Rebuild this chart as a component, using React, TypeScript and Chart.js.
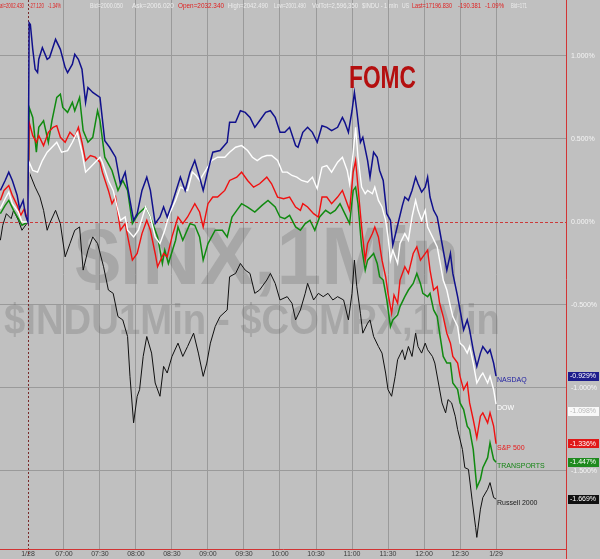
import React, { useEffect, useRef } from 'react';
import { Chart, registerables } from 'chart.js';
Chart.register(...registerables);

const FAMILY = "Arial, 'Liberation Sans', Helvetica, sans-serif";

// minutes since 06:30 (1/28 session start)
const timeTicks = [0, 30, 60, 90, 120, 150, 180, 210, 240, 270, 300, 330, 360, 390];
const timeTickLabels = ['1/28', '07:00', '07:30', '08:00', '08:30', '09:00', '09:30', '10:00', '10:30', '11:00', '11:30', '12:00', '12:30', '1/29'];
const percentTicks = [1, 0.5, 0, -0.5, -1, -1.5];

const X_MIN = -23.3;
const X_MAX = 448.3;
const Y_MIN = -1.97;
const Y_MAX = 1.337;

const seriesNames = ['NASDAQ', 'DOW', 'S&P 500', 'TRANSPORTS', 'Russell 2000'];
const lastValueLabels = ['-0.929%', '-1.098%', '-1.336%', '-1.447%', '-1.669%'];

// [minute, % change]
const nasdaq: [number, number][] = [
  [-23, 0.19], [-19, 0.25], [-16, 0.30], [-13, 0.25], [-9, 0.16], [-7, 0.08], [-4, 0.13], [-2, 0.04], [0, 0],
  [1, 1.20], [2, 1.19], [4, 1.04], [6, 0.92], [8, 0.90], [9, 0.98], [12, 1.05], [16, 0.98], [18, 0.99], [23, 1.10], [27, 1.04], [31, 0.93], [33, 0.90], [37, 0.95], [39, 1.01], [42, 0.98], [45, 0.92], [48, 0.72], [50, 0.81], [54, 0.78], [60, 0.75],
  [64, 0.49], [68, 0.45], [73, 0.39], [77, 0.23], [81, 0.30], [83, 0.21], [88, 0.01], [91, 0.05], [95, 0.19], [99, 0.27], [102, 0.19], [106, -0.01], [110, 0.03], [113, 0.09], [116, 0.03], [120, 0.11], [127, 0.27], [131, 0.19], [135, 0.30], [139, 0.37], [143, 0.27], [146, 0.19], [150, 0.31], [154, 0.42], [160, 0.43], [166, 0.48], [168, 0.60], [173, 0.60], [177, 0.67], [181, 0.66], [185, 0.63], [189, 0.57], [193, 0.61], [198, 0.66], [202, 0.67], [206, 0.63], [210, 0.54], [214, 0.54], [218, 0.57], [223, 0.46], [225, 0.45], [229, 0.54], [233, 0.57], [237, 0.54], [241, 0.48], [245, 0.58], [249, 0.57], [253, 0.55], [258, 0.57], [262, 0.63], [264, 0.60], [267, 0.54], [270, 0.67], [272, 0.78], [274, 0.67], [277, 0.48], [279, 0.51], [283, 0.37], [285, 0.27], [288, 0.42], [291, 0.39], [293, 0.31], [296, 0.25], [299, 0.05], [302, 0.01], [304, -0.14], [308, -0.02], [312, 0.10], [314, 0.15], [317, 0.13], [320, 0.19], [323, 0.27], [325, 0.23], [328, 0.18], [331, 0.21], [333, 0.27], [335, 0.15], [338, 0.07], [341, 0.03], [343, -0.05], [346, -0.17], [349, -0.29], [352, -0.19], [354, -0.31], [358, -0.45], [360, -0.53], [363, -0.65], [366, -0.59], [368, -0.65], [371, -0.77], [374, -0.87], [377, -0.79], [379, -0.75], [383, -0.79], [385, -0.77], [388, -0.85], [390, -0.929],
];

const dow: [number, number][] = [
  [-23, 0.08], [-19, 0.14], [-16, 0.18], [-13, 0.11], [-8, 0.06], [-5, 0], [0, 0],
  [1, 0.36], [4, 0.31], [8, 0.30], [12, 0.37], [16, 0.42], [20, 0.45], [24, 0.48], [28, 0.42], [33, 0.43], [37, 0.48], [41, 0.54], [45, 0.42], [48, 0.30], [52, 0.33], [56, 0.36], [60, 0.39], [62, 0.36], [67, 0.25], [71, 0.19], [77, 0.01], [81, 0.03], [83, -0.05], [88, -0.09], [92, -0.05], [98, 0.09], [102, 0.03], [106, -0.09], [110, -0.13], [114, -0.05], [118, 0.05], [123, 0.13], [127, 0.21], [133, 0.19], [137, 0.30], [140, 0.28], [143, 0.25], [148, 0.31], [153, 0.37], [158, 0.39], [164, 0.39], [168, 0.42], [173, 0.45], [178, 0.46], [183, 0.43], [187, 0.39], [191, 0.37], [195, 0.39], [199, 0.40], [203, 0.40], [208, 0.37], [212, 0.30], [216, 0.30], [220, 0.28], [224, 0.27], [228, 0.25], [233, 0.24], [237, 0.27], [241, 0.20], [245, 0.33], [249, 0.34], [253, 0.30], [258, 0.36], [262, 0.39], [266, 0.31], [268, 0.23], [271, 0.42], [273, 0.57], [275, 0.39], [278, 0.21], [281, 0.17], [283, 0.19], [287, 0.17], [289, 0.21], [292, 0.13], [295, 0.09], [298, 0.01], [300, -0.09], [302, -0.23], [304, -0.17], [308, -0.25], [310, -0.13], [314, -0.07], [317, -0.11], [320, 0.03], [323, 0.13], [325, 0.07], [328, 0.01], [331, 0.07], [333, -0.03], [337, -0.09], [341, -0.15], [343, -0.23], [346, -0.35], [349, -0.41], [352, -0.51], [354, -0.57], [358, -0.63], [360, -0.73], [363, -0.75], [366, -0.79], [368, -0.75], [371, -0.85], [374, -0.97], [377, -0.93], [379, -0.91], [383, -0.97], [385, -0.93], [388, -1.01], [390, -1.098],
];

const sp500: [number, number][] = [
  [-23, 0.13], [-20, 0.19], [-16, 0.22], [-13, 0.16], [-9, 0.10], [-6, 0.04], [-3, 0.08], [0, 0],
  [1, 0.60], [4, 0.52], [7, 0.48], [9, 0.52], [13, 0.46], [17, 0.54], [21, 0.57], [24, 0.58], [27, 0.51], [31, 0.48], [35, 0.54], [39, 0.51], [42, 0.57], [45, 0.48], [48, 0.37], [52, 0.40], [56, 0.39], [60, 0.36], [62, 0.30], [67, 0.19], [70, 0.11], [73, 0.15], [77, -0.05], [81, -0.01], [87, -0.23], [91, -0.19], [95, -0.07], [99, 0.01], [102, -0.05], [106, -0.19], [108, -0.27], [113, -0.19], [116, -0.21], [120, -0.09], [125, 0.03], [129, -0.01], [133, 0.03], [139, 0.11], [143, 0.06], [146, -0.03], [150, 0.11], [154, 0.15], [158, 0.15], [164, 0.19], [168, 0.25], [174, 0.27], [178, 0.30], [183, 0.25], [188, 0.21], [193, 0.23], [199, 0.27], [203, 0.23], [208, 0.15], [213, 0.14], [218, 0.15], [223, 0.09], [227, 0.07], [229, 0.11], [233, 0.09], [238, 0.05], [242, 0.03], [245, 0.15], [249, 0.15], [253, 0.11], [258, 0.15], [262, 0.19], [264, 0.15], [268, 0.07], [271, 0.30], [273, 0.37], [275, 0.21], [278, -0.03], [281, -0.23], [283, -0.13], [287, -0.07], [289, -0.03], [292, -0.09], [295, -0.23], [298, -0.33], [300, -0.43], [303, -0.55], [305, -0.44], [308, -0.49], [310, -0.35], [314, -0.27], [317, -0.31], [321, -0.19], [324, -0.15], [327, -0.23], [329, -0.21], [333, -0.17], [335, -0.29], [338, -0.41], [341, -0.39], [343, -0.49], [346, -0.57], [349, -0.67], [352, -0.73], [354, -0.81], [358, -0.85], [360, -0.93], [363, -1.01], [366, -0.97], [368, -1.09], [371, -1.19], [374, -1.30], [377, -1.17], [379, -1.15], [383, -1.21], [385, -1.15], [388, -1.23], [390, -1.336],
];

const transports: [number, number][] = [
  [-23, 0.05], [-19, 0.10], [-16, 0.13], [-12, 0.07], [-8, 0.02], [-5, -0.02], [0, 0],
  [1, 0.69], [4, 0.63], [7, 0.42], [9, 0.57], [13, 0.61], [17, 0.48], [20, 0.61], [24, 0.75], [27, 0.77], [29, 0.69], [33, 0.66], [37, 0.72], [39, 0.67], [43, 0.75], [46, 0.55], [50, 0.48], [54, 0.51], [58, 0.67], [60, 0.61], [64, 0.39], [70, 0.31], [75, 0.19], [79, 0.25], [83, 0.19], [87, -0.01], [92, 0.05], [98, 0.09], [102, 0.03], [108, -0.09], [112, -0.25], [114, -0.17], [117, -0.25], [123, -0.11], [125, -0.03], [129, -0.11], [135, -0.01], [139, -0.02], [143, -0.09], [146, -0.23], [150, -0.13], [156, -0.05], [162, -0.05], [166, -0.09], [170, 0.03], [174, 0.07], [178, 0.11], [183, 0.09], [189, 0.06], [195, 0.10], [200, 0.13], [206, 0.09], [210, 0.03], [214, 0.02], [218, 0.04], [223, -0.03], [227, -0.05], [231, -0.01], [235, 0.01], [239, -0.05], [243, 0.03], [248, 0.07], [252, 0.05], [256, 0.07], [260, 0.11], [264, 0.05], [268, -0.01], [271, 0.19], [273, 0.21], [275, 0.11], [278, -0.15], [281, -0.29], [283, -0.23], [288, -0.19], [291, -0.25], [293, -0.33], [296, -0.35], [299, -0.47], [302, -0.63], [304, -0.59], [308, -0.56], [310, -0.51], [314, -0.45], [317, -0.41], [321, -0.37], [324, -0.31], [327, -0.37], [329, -0.43], [333, -0.45], [335, -0.43], [338, -0.53], [341, -0.57], [343, -0.67], [346, -0.81], [349, -0.85], [352, -0.85], [354, -0.97], [358, -1.01], [360, -1.09], [363, -1.13], [366, -1.23], [368, -1.25], [371, -1.37], [374, -1.60], [377, -1.55], [379, -1.48], [383, -1.42], [385, -1.33], [388, -1.43], [390, -1.447],
];

const russell: [number, number][] = [
  [-23, -0.11], [-21, -0.02], [-18, 0.05], [-14, 0.02], [-12, 0.07], [-8, 0.01], [-5, -0.05], [0, 0],
  [1, 0.30], [6, 0.21], [10, 0.15], [13, 0.07], [16, -0.05], [18, -0.01], [23, 0.07], [27, -0.01], [31, -0.21], [35, -0.13], [39, -0.05], [43, -0.03], [46, -0.29], [50, -0.17], [54, -0.09], [58, -0.13], [63, -0.27], [67, -0.41], [71, -0.43], [75, -0.57], [79, -0.59], [83, -0.69], [85, -0.93], [88, -1.21], [91, -1.05], [93, -1.01], [96, -0.81], [99, -0.69], [103, -0.79], [106, -0.97], [110, -1.05], [113, -0.87], [116, -0.91], [120, -0.81], [125, -0.73], [129, -0.81], [133, -0.75], [138, -0.67], [142, -0.79], [146, -0.93], [149, -0.85], [152, -0.73], [156, -0.63], [160, -0.57], [166, -0.53], [168, -0.33], [173, -0.31], [177, -0.25], [181, -0.29], [185, -0.31], [189, -0.43], [193, -0.41], [199, -0.35], [202, -0.31], [206, -0.37], [210, -0.47], [216, -0.45], [220, -0.49], [223, -0.59], [227, -0.53], [231, -0.43], [233, -0.37], [238, -0.47], [242, -0.43], [246, -0.45], [250, -0.43], [254, -0.47], [258, -0.45], [263, -0.47], [267, -0.59], [270, -0.43], [272, -0.23], [274, -0.39], [277, -0.55], [279, -0.67], [283, -0.61], [285, -0.59], [288, -0.69], [292, -0.75], [295, -0.79], [298, -0.91], [300, -1.01], [303, -1.05], [306, -0.93], [308, -0.83], [312, -0.77], [314, -0.83], [317, -0.75], [320, -0.81], [323, -0.67], [325, -0.75], [328, -0.79], [331, -0.73], [333, -0.77], [337, -0.81], [339, -0.85], [342, -0.97], [345, -1.09], [348, -1.15], [350, -1.07], [353, -1.09], [356, -1.17], [358, -1.25], [362, -1.37], [364, -1.48], [367, -1.49], [370, -1.67], [373, -1.84], [374, -1.90], [377, -1.73], [379, -1.66], [383, -1.61], [385, -1.57], [388, -1.66], [390, -1.669],
];

const seriesData = [nasdaq, dow, sp500, transports, russell];
const lineColors = ['#10108c', '#ffffff', '#f01010', '#108a10', '#101010'];
const lineWidths = [1.5, 1.4, 1.4, 1.5, 1];
const labelColors = ['#1c1ca0', '#ffffff', '#e81818', '#148414', '#1a1a1a'];
const boxColors = ['#1c1c8c', '#f8f8f8', '#e01818', '#1e8a1e', '#111111'];
const boxTextColors = ['#ffffff', '#b8b8b8', '#ffffff', '#ffffff', '#ffffff'];
const boxNudge = [0, 7, 0, 0, 0];

const headerSegments: [number, string, string, number][] = [
  [0, 'al=2002.430', '#e02020', 24],
  [29, '-27.120', '#e02020', 15],
  [48, '-1.34%', '#e02020', 13],
  [90, 'Bid=2000.050', '#ececec', 33],
  [132, 'Ask=2006.020', '#ececec', 42],
  [178, 'Open=2032.340', '#e02020', 46],
  [228, 'High=2042.490', '#ececec', 40],
  [274, 'Low=2001.490', '#ececec', 32],
  [312, 'VolTot=2,596,350', '#ececec', 46],
  [362, '$INDU - 1 min', '#ececec', 36],
  [402, 'US', '#ececec', 7],
  [412, 'Last=17196.830', '#e02020', 40],
  [458, '-190.381', '#e02020', 23],
  [485, '-1.09%', '#e02020', 19],
  [511, 'Bid=171', '#ececec', 16],
];

const WATERMARK_1 = '$INX,1Min';
const WATERMARK_2 = '$INDU1Min - $COMPX,1Min';
const EVENT_LABEL = 'FOMC';

const decor = {
  id: 'decor',
  beforeDraw(chart: any) {
    const { ctx, width, height } = chart;
    ctx.save();
    ctx.fillStyle = '#c0c0c0';
    ctx.fillRect(0, 0, width, height);
    ctx.restore();
  },
  beforeDatasetsDraw(chart: any) {
    const { ctx, chartArea: a } = chart;
    const x = chart.scales.x;
    const y = chart.scales.y;
    ctx.save();
    ctx.textAlign = 'left';
    ctx.textBaseline = 'alphabetic';
    ctx.fillStyle = 'rgba(95,95,95,0.26)';
    ctx.font = `bold 82px ${FAMILY}`;
    ctx.fillText(WATERMARK_1, 75, 284, 385);
    ctx.font = `bold 42px ${FAMILY}`;
    ctx.fillText(WATERMARK_2, 4, 334, 496);

    const y0 = Math.round(y.getPixelForValue(0)) + 0.5;
    ctx.strokeStyle = '#cc3a3a';
    ctx.lineWidth = 1;
    ctx.setLineDash([3, 2]);
    ctx.beginPath();
    ctx.moveTo(a.left, y0);
    ctx.lineTo(a.right, y0);
    ctx.stroke();

    const x0 = Math.round(x.getPixelForValue(0)) + 0.5;
    ctx.strokeStyle = '#7a2a2a';
    ctx.setLineDash([2, 2]);
    ctx.beginPath();
    ctx.moveTo(x0, a.top);
    ctx.lineTo(x0, chart.height - 3);
    ctx.stroke();
    ctx.setLineDash([]);

    ctx.fillStyle = '#b40f0f';
    ctx.font = `bold 32px ${FAMILY}`;
    ctx.fillText(EVENT_LABEL, 349, 88, 67);
    ctx.restore();
  },
  afterDatasetsDraw(chart: any) {
    const { ctx, chartArea: a } = chart;
    const x = chart.scales.x;
    const y = chart.scales.y;
    ctx.save();
    // border lines
    ctx.strokeStyle = '#d23434';
    ctx.lineWidth = 1;
    ctx.beginPath();
    ctx.moveTo(a.right + 0.5, 0);
    ctx.lineTo(a.right + 0.5, chart.height);
    ctx.moveTo(0, a.bottom + 0.5);
    ctx.lineTo(a.right + 1, a.bottom + 0.5);
    ctx.stroke();

    // series labels and last value boxes
    ctx.textBaseline = 'middle';
    ctx.textAlign = 'left';
    seriesData.forEach((s, i) => {
      const last = s[s.length - 1];
      const px = x.getPixelForValue(last[0]);
      const py = y.getPixelForValue(last[1]);
      ctx.font = `7px ${FAMILY}`;
      ctx.fillStyle = labelColors[i];
      ctx.fillText(seriesNames[i], px + 1, py + 4);
      const by = py + boxNudge[i];
      ctx.fillStyle = boxColors[i];
      ctx.fillRect(a.right + 2, Math.round(by - 4.5), 31, 9);
      ctx.fillStyle = boxTextColors[i];
      ctx.fillText(lastValueLabels[i], a.right + 4, by, 28);
    });

    // header
    ctx.font = `6.5px ${FAMILY}`;
    ctx.textBaseline = 'middle';
    headerSegments.forEach(([hx, text, color, w]) => {
      ctx.fillStyle = color;
      ctx.fillText(text, hx, 6, w);
    });
    ctx.restore();
  },
};

export default function App() {
  const ref = useRef<HTMLCanvasElement>(null);
  useEffect(() => {
    document.body.style.margin = '0';
    const canvas = ref.current;
    if (!canvas) return;
    const chart = new Chart(canvas, {
      type: 'line',
      data: {
        datasets: seriesData.map((s, i) => ({
          label: seriesNames[i],
          data: s.map(([t, v]) => ({ x: t, y: v })),
          borderColor: lineColors[i],
          borderWidth: lineWidths[i],
          pointRadius: 0,
          tension: 0,
          fill: false,
        })),
      },
      options: {
        responsive: false,
        animation: false,
        layout: { padding: 0 },
        plugins: { legend: { display: false }, tooltip: { enabled: false } },
        scales: {
          x: {
            type: 'linear',
            min: X_MIN,
            max: X_MAX,
            afterBuildTicks: (s: any) => {
              s.ticks = timeTicks.map((v) => ({ value: v }));
            },
            afterFit: (s: any) => {
              s.height = 10;
              s.paddingLeft = 0;
              s.paddingRight = 0;
              s.paddingTop = 0;
              s.paddingBottom = 0;
            },
            grid: {
              color: (c: any) => (c.tick && c.tick.value === 0 ? 'rgba(0,0,0,0)' : '#9a9a9a'),
              lineWidth: 1,
              drawTicks: false,
            },
            border: { display: false },
            ticks: {
              color: '#3c3c3c',
              font: { size: 7, family: FAMILY },
              padding: 1,
              maxRotation: 0,
              autoSkip: false,
              callback: (_v: any, i: number) => timeTickLabels[i],
            },
          },
          y: {
            type: 'linear',
            position: 'right',
            min: Y_MIN,
            max: Y_MAX,
            afterBuildTicks: (s: any) => {
              s.ticks = percentTicks.map((v) => ({ value: v }));
            },
            afterFit: (s: any) => {
              s.width = 34;
              s.paddingLeft = 0;
              s.paddingRight = 0;
              s.paddingTop = 0;
              s.paddingBottom = 0;
            },
            grid: {
              color: (c: any) => (c.tick && c.tick.value === 0 ? 'rgba(0,0,0,0)' : '#9a9a9a'),
              lineWidth: 1,
              drawTicks: false,
            },
            border: { display: false },
            ticks: {
              color: '#f4f4f4',
              font: { size: 7, family: FAMILY },
              padding: 5,
              callback: (v: any) => `${Number(v).toFixed(3)}%`,
            },
          },
        },
      },
      plugins: [decor],
    } as any);
    return () => chart.destroy();
  }, []);
  return (
    <div style={{ width: 600, height: 559 }}>
      <canvas ref={ref} width={600} height={559} style={{ display: 'block' }} />
    </div>
  );
}
